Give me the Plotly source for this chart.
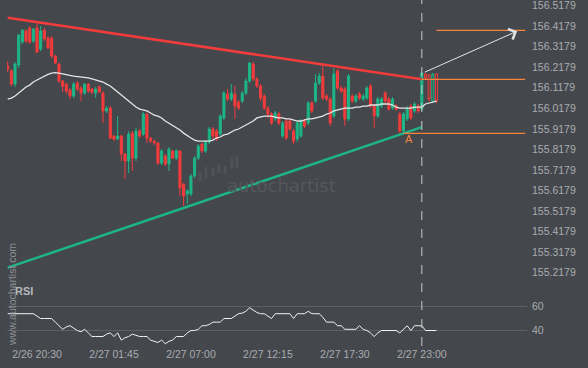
import plotly.graph_objects as go

# ---------------- data ----------------
bar_index = list(range(-8, 110))          # 15-minute bars, 0 = 2/26 20:30

open_ = [156.224, 156.200, 156.136, 156.229, 156.341, 156.395, 156.409, 156.346,
         156.409, 156.307, 156.399, 156.360, 156.360, 156.273, 156.234, 156.151, 156.136, 156.107,
         156.078, 156.141, 156.117, 156.092, 156.136, 156.112, 156.092, 156.122, 156.092, 156.005,
         156.019, 155.883, 155.868, 155.883, 155.795, 155.761, 155.897, 155.775, 155.907, 155.892,
         155.990, 155.873, 155.858, 155.849, 155.751, 155.785, 155.746, 155.810, 155.775, 155.810,
         155.649, 155.600, 155.600, 155.688, 155.775, 155.844, 155.810, 155.853, 155.917, 155.907,
         155.892, 155.971, 156.087, 156.063, 156.087, 156.048, 156.053, 156.092, 156.151, 156.234,
         156.161, 156.127, 156.078, 156.019, 155.990, 155.966, 155.990, 155.883, 155.956, 155.956,
         155.907, 155.868, 155.883, 155.956, 155.946, 156.044, 156.053, 156.141, 156.175, 156.078,
         156.063, 155.980, 156.200, 156.117, 156.112, 155.966, 156.078, 156.053, 156.088, 156.063,
         156.068, 156.127, 156.029, 155.980, 156.029, 156.092, 156.063, 156.019, 156.029, 155.990,
         155.907, 155.966, 156.029, 156.005, 156.029, 156.014, 156.185, 156.180, 156.053, 156.185]

high = [156.248, 156.209, 156.243, 156.380, 156.404, 156.404, 156.419, 156.409,
        156.438, 156.419, 156.409, 156.370, 156.370, 156.278, 156.239, 156.156, 156.141, 156.117,
        156.146, 156.151, 156.126, 156.141, 156.141, 156.117, 156.122, 156.131, 156.102, 156.029,
        156.029, 155.888, 155.980, 155.888, 155.800, 155.907, 155.907, 155.922, 155.917, 156.000,
        155.995, 155.878, 155.863, 155.853, 155.819, 155.795, 155.829, 155.814, 155.819, 155.814,
        155.654, 155.624, 155.697, 155.785, 155.844, 155.849, 155.863, 155.927, 155.927, 155.917,
        155.990, 156.102, 156.112, 156.136, 156.127, 156.058, 156.102, 156.166, 156.244, 156.244,
        156.170, 156.136, 156.088, 156.029, 156.000, 156.005, 156.000, 155.956, 155.966, 155.966,
        155.917, 155.956, 155.966, 155.966, 156.053, 156.053, 156.185, 156.190, 156.229, 156.088,
        156.073, 156.214, 156.209, 156.127, 156.122, 156.185, 156.088, 156.088, 156.097, 156.088,
        156.127, 156.136, 156.039, 156.073, 156.073, 156.102, 156.073, 156.073, 156.039, 156.000,
        156.000, 156.029, 156.039, 156.048, 156.039, 156.195, 156.190, 156.185, 156.190, 156.190]

low = [156.195, 156.126, 156.122, 156.214, 156.331, 156.336, 156.331, 156.336,
       156.287, 156.297, 156.346, 156.307, 156.263, 156.234, 156.141, 156.097, 156.087, 156.063,
       156.068, 156.102, 156.053, 156.083, 156.092, 156.087, 156.068, 156.092, 155.946, 155.995,
       155.868, 155.858, 155.863, 155.761, 155.673, 155.702, 155.712, 155.761, 155.873, 155.883,
       155.849, 155.849, 155.839, 155.741, 155.741, 155.737, 155.712, 155.771, 155.766, 155.590,
       155.541, 155.551, 155.590, 155.678, 155.766, 155.800, 155.800, 155.844, 155.868, 155.858,
       155.883, 155.961, 156.053, 156.053, 155.966, 156.010, 156.044, 156.083, 156.141, 156.151,
       156.117, 156.053, 156.010, 155.971, 155.936, 155.956, 155.936, 155.873, 155.863, 155.907,
       155.844, 155.853, 155.873, 155.922, 155.936, 155.995, 156.044, 156.131, 156.058, 156.053,
       155.932, 155.971, 156.107, 156.092, 155.932, 155.956, 156.044, 156.044, 156.058, 156.053,
       156.058, 156.019, 155.922, 155.971, 156.019, 156.044, 156.005, 156.010, 156.005, 155.897,
       155.897, 155.956, 155.961, 155.995, 155.995, 156.005, 156.161, 156.053, 156.044, 156.044]

close = [156.209, 156.136, 156.234, 156.375, 156.399, 156.346, 156.341, 156.404,
         156.292, 156.395, 156.356, 156.312, 156.273, 156.239, 156.151, 156.126, 156.102, 156.078,
         156.136, 156.112, 156.092, 156.136, 156.102, 156.097, 156.112, 156.097, 156.005, 156.019,
         155.873, 155.868, 155.883, 155.795, 155.761, 155.892, 155.775, 155.907, 155.883, 155.990,
         155.873, 155.858, 155.849, 155.751, 155.810, 155.746, 155.819, 155.775, 155.810, 155.629,
         155.590, 155.615, 155.688, 155.775, 155.834, 155.810, 155.853, 155.917, 155.883, 155.868,
         155.980, 156.092, 156.063, 156.092, 156.029, 156.019, 156.092, 156.151, 156.239, 156.161,
         156.127, 156.068, 156.019, 155.990, 155.946, 155.995, 155.946, 155.946, 155.873, 155.917,
         155.858, 155.946, 155.956, 155.931, 156.044, 156.005, 156.141, 156.175, 156.068, 156.063,
         155.946, 156.185, 156.117, 156.102, 155.966, 156.175, 156.053, 156.078, 156.068, 156.078,
         156.117, 156.029, 155.980, 156.063, 156.063, 156.053, 156.014, 156.063, 156.014, 155.907,
         155.990, 156.019, 155.971, 156.039, 156.005, 156.190, 156.166, 156.063, 156.185, 156.053]

moving_avg = [156.063, 156.068, 156.078, 156.092, 156.107, 156.122, 156.131, 156.146,
              156.156, 156.166, 156.175, 156.183, 156.190, 156.192, 156.190, 156.185, 156.180, 156.178,
              156.175, 156.173, 156.170, 156.168, 156.166, 156.161, 156.156, 156.151, 156.146, 156.136,
              156.127, 156.112, 156.097, 156.083, 156.068, 156.053, 156.039, 156.024, 156.014, 156.009,
              156.005, 155.995, 155.985, 155.980, 155.971, 155.956, 155.946, 155.936, 155.922, 155.912,
              155.897, 155.883, 155.873, 155.863, 155.858, 155.858, 155.858, 155.858, 155.863, 155.873,
              155.878, 155.888, 155.892, 155.902, 155.912, 155.917, 155.927, 155.936, 155.946, 155.956,
              155.971, 155.975, 155.980, 155.980, 155.980, 155.975, 155.971, 155.971, 155.966, 155.966,
              155.961, 155.956, 155.956, 155.961, 155.966, 155.966, 155.971, 155.975, 155.980, 155.990,
              155.995, 156.005, 156.009, 156.014, 156.019, 156.019, 156.019, 156.024, 156.024, 156.029,
              156.029, 156.034, 156.034, 156.034, 156.039, 156.039, 156.039, 156.034, 156.024, 156.019,
              156.019, 156.019, 156.019, 156.024, 156.024, 156.024, 156.039, 156.044, 156.048, 156.053]

rsi = [54, 54, 54, 54, 54, 54, 54, 54,
       52, 50, 50, 50, 50, 47, 44, 41, 43, 44,
       42, 40, 39, 41, 38, 35, 35, 35, 35, 37,
       38, 35, 38, 32, 34, 35, 37, 36, 35, 35,
       35, 32, 31, 30, 32, 29, 31, 32, 35, 35,
       35, 38, 40, 40, 41, 44, 44, 45, 47, 47,
       47, 50, 50, 50, 52, 54, 54.5, 56, 59, 57,
       55, 54, 54, 52, 50, 54, 54, 54, 54, 54,
       50, 54, 54, 54, 56, 54, 54, 54, 51, 47,
       47, 47, 44, 44, 41, 41, 41, 41, 44, 41,
       40, 38, 35, 38, 40, 40, 40, 40, 40, 38,
       41, 44, 40, 44, 44, 44, 40, 40, 40, 40]

n_hollow = 4                                   # last bars drawn as outlines

# pattern lines: [start bar, end bar] and prices
resistance_x = [-8, 105]
resistance_y = [156.459, 156.160]
support_x = [-8, 105]
support_y = [155.241, 155.926]
breakout_level_x = [105, 133.2]
breakout_level_y = 156.159
pivot_a_x = [100, 133.2]
pivot_a_y = 155.896
target_level_x = [109, 133.2]
target_level_y = 156.398
arrow_x = [105.4, 131.0]
arrow_y = [156.191, 156.394]
current_bar = 105

tick_index = [0, 21, 42, 63, 84, 105]
tick_text = ["2/26 20:30", "2/27 01:45", "2/27 07:00", "2/27 12:15", "2/27 17:30", "2/27 23:00"]
price_ticks = ["156.5179", "156.4179", "156.3179", "156.2179", "156.1179", "156.0179", "155.9179",
               "155.8179", "155.7179", "155.6179", "155.5179", "155.4179", "155.3179", "155.2179"]
rsi_ticks = [40, 60]

# ---------------- styling ----------------
BG = "#44474c"
RED = "#f23c3c"
GREEN = "#1db586"
ORANGE = "#f5843e"
LABEL = "#a9acb1"
GRID = "#5c5f64"
FONT = "Liberation Sans, Arial, sans-serif"

fig = go.Figure()

k = len(bar_index) - n_hollow
fig.add_trace(go.Candlestick(
    x=bar_index[:k], open=open_[:k], high=high[:k], low=low[:k], close=close[:k],
    increasing=dict(line=dict(color=GREEN, width=1), fillcolor=GREEN),
    decreasing=dict(line=dict(color=RED, width=1), fillcolor=RED),
    whiskerwidth=0, hoverinfo="skip", xaxis="x", yaxis="y"))
fig.add_trace(go.Candlestick(
    x=bar_index[k:], open=open_[k:], high=high[k:], low=low[k:], close=close[k:],
    increasing=dict(line=dict(color=GREEN, width=1), fillcolor="rgba(0,0,0,0)"),
    decreasing=dict(line=dict(color=RED, width=1), fillcolor="rgba(0,0,0,0)"),
    whiskerwidth=0, hoverinfo="skip", xaxis="x", yaxis="y"))

fig.add_trace(go.Scatter(x=bar_index, y=moving_avg, mode="lines",
                         line=dict(color="#e6e6e6", width=1.3), hoverinfo="skip"))

fig.add_trace(go.Scatter(x=resistance_x, y=resistance_y, mode="lines",
                         line=dict(color=RED, width=2.5), hoverinfo="skip"))
fig.add_trace(go.Scatter(x=support_x, y=support_y, mode="lines",
                         line=dict(color=GREEN, width=2.5), hoverinfo="skip"))

for lx, ly in [(breakout_level_x, breakout_level_y), (pivot_a_x, pivot_a_y),
               (target_level_x, target_level_y)]:
    fig.add_trace(go.Scatter(x=lx, y=[ly, ly], mode="lines",
                             line=dict(color=ORANGE, width=1.3), hoverinfo="skip"))

fig.add_trace(go.Scatter(x=bar_index, y=rsi, mode="lines", xaxis="x", yaxis="y2",
                         line=dict(color="#f2f2f2", width=1), hoverinfo="skip"))

# arrow to target
fig.add_annotation(x=arrow_x[1], y=arrow_y[1], ax=arrow_x[0], ay=arrow_y[0],
                   xref="x", yref="y", axref="x", ayref="y", text="",
                   showarrow=True, arrowhead=4, arrowsize=2.2, arrowwidth=1,
                   arrowcolor="#e4e4e4")

# pivot label
fig.add_annotation(x=pivot_a_x[0], y=pivot_a_y, xref="x", yref="y", text="A",
                   showarrow=False, xanchor="left", yanchor="top", yshift=2, xshift=-1,
                   font=dict(family=FONT, size=11, color=ORANGE))

# current-time dashed line
fig.add_shape(type="line", xref="x", yref="paper", x0=current_bar, x1=current_bar,
              y0=0, y1=1, line=dict(color="#c9c9c9", width=1, dash="dash"))

# ---- panel texts & watermark ----
L, R, T, B = 7, 61, 0, 22
PW, PH = 588 - L - R, 368 - T - B


def px(xp):
    return (xp - L) / PW


def py(yp):
    return (PH + T - yp) / PH


fig.add_annotation(xref="paper", yref="paper", x=px(13), y=py(291), text="<b>RSI</b>",
                   showarrow=False, xanchor="left", yanchor="middle",
                   font=dict(family=FONT, size=11, color="#b5b8bc"))
fig.add_annotation(xref="paper", yref="paper", x=px(12), y=py(295), text="www.autochartist.com",
                   showarrow=False, textangle=-90, xanchor="center", yanchor="middle",
                   font=dict(family=FONT, size=10.5, color="#8c8f94"))
fig.add_annotation(xref="paper", yref="paper", x=px(281), y=py(185), text="autochartist",
                   showarrow=False, xanchor="center", yanchor="middle",
                   font=dict(family="DejaVu Sans", size=18, color="#55585d"))
logo = [(200, 172, 181), (206, 167, 178), (213, 168, 176), (219, 164, 173),
        (225, 166, 174), (232, 158, 169), (237, 156, 168)]
for lx, yt, yb in logo:
    fig.add_shape(type="rect", xref="paper", yref="paper", x0=px(lx - 1.5), x1=px(lx + 1.5),
                  y0=py(yb), y1=py(yt), line=dict(width=0), fillcolor="#4f5257", layer="below")

tickfont = dict(family=FONT, size=10.5, color=LABEL)
main_hi = 156.546
main_lo = main_hi - 281 / 205.1
fig.update_layout(
    width=588, height=368,
    margin=dict(l=L, r=R, t=T, b=B, pad=0),
    paper_bgcolor=BG, plot_bgcolor=BG,
    showlegend=False, hovermode=False, boxgap=0.2,
    xaxis=dict(domain=[0, 1], anchor="y2", range=[-8.19, 133.7], automargin=False,
               tickvals=tick_index, ticktext=tick_text, tickfont=tickfont,
               showgrid=False, zeroline=False, showline=False, ticks="",
               ticklabeloverflow="allow", rangeslider=dict(visible=False)),
    yaxis=dict(domain=[(PH - 281) / PH, 1], anchor="x", side="right", automargin=False,
               range=[main_lo, main_hi],
               tickvals=[float(t) for t in price_ticks], ticktext=price_ticks,
               tickfont=tickfont, showgrid=False, zeroline=False, ticks="",
               ticklabelstandoff=4, ticklabeloverflow="allow"),
    yaxis2=dict(domain=[0, (PH - 284) / PH], anchor="x", side="right", automargin=False,
                range=[27.1, 78.75], tickvals=rsi_ticks, ticktext=[str(v) for v in rsi_ticks],
                tickfont=tickfont, showgrid=True, gridcolor=GRID, gridwidth=1,
                zeroline=False, ticks="", ticklabelstandoff=4, ticklabeloverflow="allow"),
)

fig.write_html("out.html",
               config={"displayModeBar": False, "staticPlot": True},
               post_script="document.body.style.margin='0px';"
                           "document.body.style.backgroundColor='" + BG + "';")
